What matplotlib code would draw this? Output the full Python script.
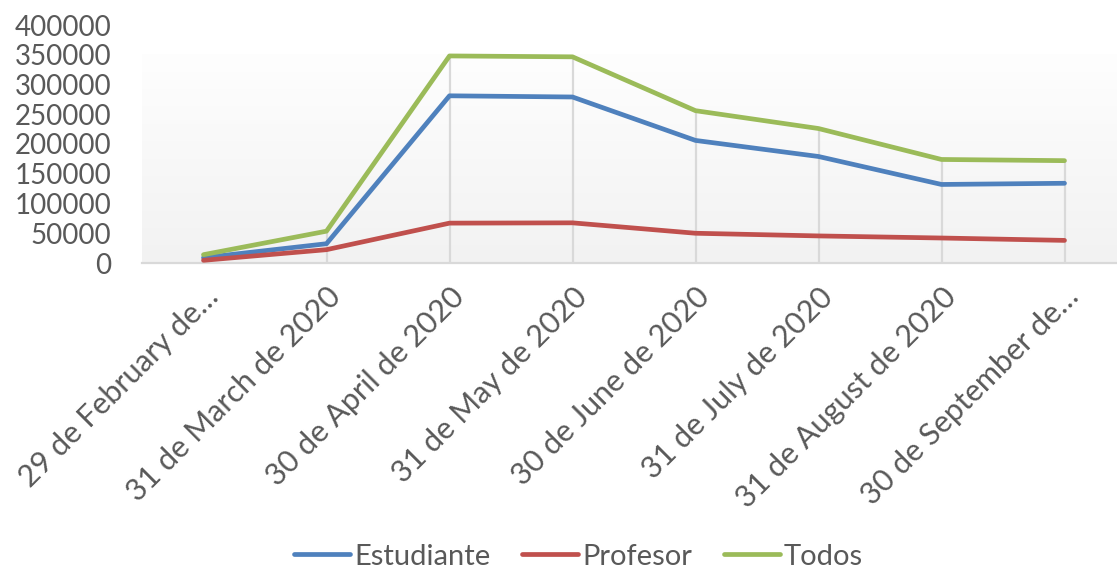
import numpy as np
import matplotlib
matplotlib.use("Agg")
import matplotlib.pyplot as plt
from matplotlib.colors import LinearSegmentedColormap

categories = ["29 de February de…", "31 de March de 2020", "30 de April de 2020",
              "31 de May de 2020", "30 de June de 2020", "31 de July de 2020",
              "31 de August de 2020", "30 de September de…"]
estudiante = [9000, 32400, 281000, 279000, 206000, 179000, 132000, 134000]
profesor = [4500, 22400, 67000, 67500, 50000, 45500, 42000, 38000]
todos = [14000, 53500, 348000, 346500, 256000, 226000, 174000, 172000]
yticks = [0, 50000, 100000, 150000, 200000, 250000, 300000, 350000, 400000]

plt.rcParams['font.family'] = ['Lato', 'DejaVu Sans']
txt = '#595959'

fig = plt.figure(figsize=(11.17, 5.74), dpi=100)
ax = fig.add_axes([142/1117, 1 - 263/574, 984/1117, 238/574])

x = np.arange(len(categories))
n = len(categories)

# gradient background (plot area top sits a little below the top tick)
grad = np.linspace(0, 1, 256).reshape(-1, 1)
cmap = LinearSegmentedColormap.from_list('g', ['#F2F2F2', '#FEFEFE'])
ax.imshow(grad, aspect='auto', cmap=cmap, extent=[-0.5, n - 0.5, 0, 351000],
          origin='lower', zorder=0, vmin=0, vmax=1)
ax.set_xlim(-0.5, n - 0.5)
ax.set_ylim(0, 400000)

# drop lines from the highest series to the axis
ax.vlines(x, 0, todos, color='#D9D9D9', lw=1.6, zorder=1)

ax.plot(x, estudiante, color='#4F81BD', lw=3.4, label='Estudiante', zorder=3, solid_capstyle='round')
ax.plot(x, profesor, color='#C0504D', lw=3.4, label='Profesor', zorder=3, solid_capstyle='round')
ax.plot(x, todos, color='#9BBB59', lw=3.4, label='Todos', zorder=3, solid_capstyle='round')

for s in ['top', 'right', 'left']:
    ax.spines[s].set_visible(False)
ax.spines['bottom'].set_color('#D9D9D9')
ax.spines['bottom'].set_linewidth(1.6)

ax.set_yticks(yticks)
ax.set_yticklabels([str(v) for v in yticks])
ax.set_xticks(x)
ax.set_xticklabels(categories, rotation=45, ha='right', rotation_mode='anchor')
ax.tick_params(axis='both', length=0, labelcolor=txt)
ax.tick_params(axis='y', labelsize=20, pad=22)
ax.tick_params(axis='x', labelsize=22, pad=14)

fig.legend(loc='lower center', ncol=3, bbox_to_anchor=(0.518, -0.038), frameon=False,
           fontsize=21, labelcolor=txt, handlelength=1.9, handletextpad=0.15, columnspacing=1.1)

fig.savefig('out.png', dpi=100)
